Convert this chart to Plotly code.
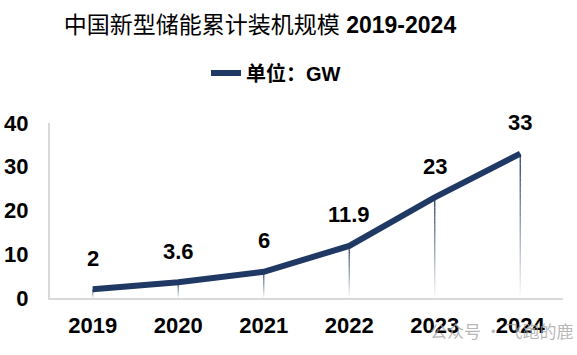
import plotly.graph_objects as go

years = ["2019", "2020", "2021", "2022", "2023", "2024"]
capacity = [2, 3.6, 6, 11.9, 23, 33]
labels = ["2", "3.6", "6", "11.9", "23", "33"]
series_name = "单位：GW"
title_cn = "中国新型储能累计装机规模"
title_years = "2019-2024"
y_ticks = [0, 10, 20, 30, 40]
watermark = "公众号 · 飞跑的鹿"

NAVY = "#203864"
AXIS = "#d9d9d9"
FONT = "Liberation Sans, Arial, Noto Sans CJK SC, sans-serif"

W, H = 577, 355
ML, MR, MT, MB = 50, 14, 123, 57
PW, PH = W - ML - MR, H - MT - MB


def px2paper_x(px):
    return (px - ML) / PW


def px2paper_y(py):
    return (H - MB - py) / PH


fig = go.Figure()

fig.add_trace(go.Scatter(
    x=years, y=capacity, mode="lines", name=series_name,
    line=dict(color=NAVY, width=6),
    hoverinfo="x+y",
))

# gradient drop lines (navy at the point fading to white at the axis)
N = 30
shapes = []
for i, v in enumerate(capacity):
    for k in range(N):
        y0 = v * k / N
        y1 = v * (k + 1) / N
        op = (k + 0.5) / N
        shapes.append(dict(
            type="line", xref="x", yref="y", x0=i, x1=i, y0=y0, y1=y1,
            line=dict(color=NAVY, width=1.3), opacity=op, layer="below",
        ))

annotations = [dict(
    x=px2paper_x(428), y=px2paper_y(330), xref="paper", yref="paper",
    text=watermark, showarrow=False, xanchor="left", yanchor="middle",
    font=dict(family="Noto Sans CJK SC, sans-serif", size=17, color="rgba(160,160,160,0.75)"),
)]
for i, (v, t) in enumerate(zip(capacity, labels)):
    annotations.append(dict(
        x=i, y=v, xref="x", yref="y", text=t, showarrow=False,
        yshift=31, yanchor="middle",
        font=dict(family=FONT, size=22, color="#000000", weight="bold"),
    ))

fig.update_layout(
    width=W, height=H,
    margin=dict(l=ML, r=MR, t=MT, b=MB, autoexpand=False),
    paper_bgcolor="white", plot_bgcolor="white",
    title=dict(
        text=f"{title_cn} <b>{title_years}</b>",
        x=260 / W, xref="container", xanchor="center",
        y=1 - 25 / H, yref="container", yanchor="middle",
        font=dict(family=FONT, size=23, color="#000000"),
    ),
    showlegend=True,
    legend=dict(
        orientation="h",
        x=px2paper_x(206), xanchor="left", y=px2paper_y(73), yanchor="middle",
        font=dict(family=FONT, size=20, color="#000000", weight="bold"),
        bgcolor="rgba(0,0,0,0)",
    ),
    xaxis=dict(
        type="category", range=[-0.5, 5.5], automargin=False,
        showline=True, linecolor=AXIS, linewidth=2,
        showgrid=False, zeroline=False, ticks="",
        ticklabelstandoff=7,
        tickfont=dict(family=FONT, size=22, color="#000000", weight="bold"),
        fixedrange=True,
    ),
    yaxis=dict(
        range=[0, 40], tickvals=y_ticks, automargin=False,
        showline=True, linecolor=AXIS, linewidth=2,
        showgrid=False, zeroline=False, ticks="",
        ticklabelstandoff=15,
        tickfont=dict(family=FONT, size=22, color="#000000", weight="bold"),
        fixedrange=True,
    ),
    shapes=shapes,
    annotations=annotations,
)

fig.write_html(
    "out.html",
    config={"displayModeBar": False},
    post_script="document.body.style.margin='0';document.body.style.overflow='hidden';",
)
